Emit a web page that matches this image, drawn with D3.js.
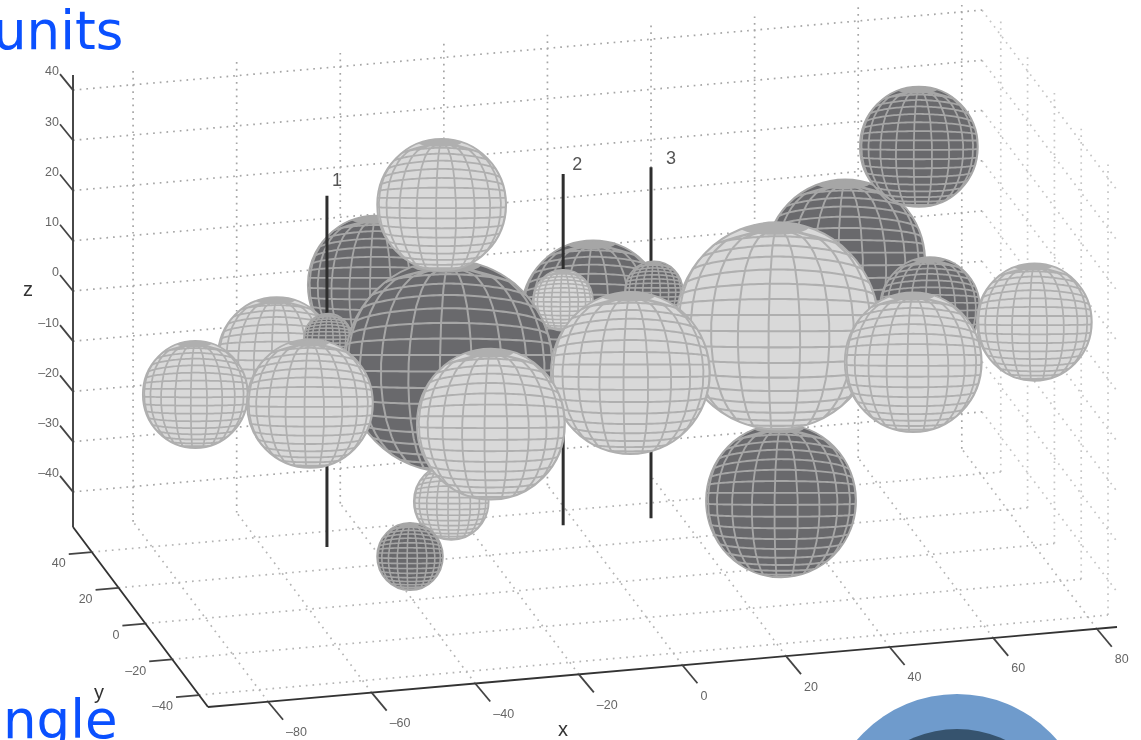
<!DOCTYPE html>
<meta charset="utf-8">
<style>
  html, body { margin: 0; background: #fff; overflow: hidden; }
  svg { display: block; }
</style>
<script src="https://cdn.jsdelivr.net/npm/d3@7"></script>
<body>
<script>

var width = 1141
var height = 740

// tick values and labels
var xTicks = [-80, -60, -40, -20, 0, 20, 40, 60, 80]
var yTicks = [-40, -20, 0, 20, 40]
var zTicks = [-40, -30, -20, -10, 0, 10, 20, 30, 40]

// spheres, back to front. kind 0 = light, 1 = dark
var sphereX = [52.3, 65.5, 66.6, 36.3, -0.5, 10.2, -7.6, -44, 33, 82.1, 58.2, -65.2, -55.6, -32.5, -34.4, 1, -34.1, -43.1, -28, -86.1, -65]
var sphereY = [34, 30, 26, 20, 18, 14, 13, 12, 10, 8, 6, 4, 3, 2, 0, -4, -6, -10, -12, -16, -20]
var sphereZ = [0, 23, -7.8, -41.3, 0, 5, 5.1, 11.8, -2.6, -5.6, -10.7, 2.2, 5.5, -1.8, 31.2, -4.1, -25.8, -34.5, -8.8, 3.8, 1.5]
var sphereR = [15.44, 11.39, 9.65, 14.48, 13.9, 5.6, 5.79, 13.13, 19.6, 11.1, 13.22, 11.39, 4.63, 20.08, 12.45, 15.35, 7.24, 6.37, 14.29, 10.14, 12.16]
var sphereKind = [1, 1, 1, 1, 1, 1, 0, 1, 0, 0, 0, 0, 1, 1, 0, 0, 0, 1, 0, 0, 0]

// numbered stems
var stemLabel = ["1", "2", "3"]
var stemX = [-53.7, -6.8, 9.9]
var stemY = [11, 16, 15]
var stemBottom = [-39.1, -40.8, -40.6]
var stemTop = [30.8, 29.1, 29.3]

var xMin = -91.6, xMax = 83.9
var yMin = -46.7, yMax = 54
var zMin = -47, zMax = 43

// each data axis moves along its own screen direction
var xToSx = d3.scaleLinear().domain([xMin, xMax]).range([0, 909])
var xToSy = d3.scaleLinear().domain([xMin, xMax]).range([0, -80])
var yToSx = d3.scaleLinear().domain([yMin, yMax]).range([0, -135])
var yToSy = d3.scaleLinear().domain([yMin, yMax]).range([0, -180])
var zToSy = d3.scaleLinear().domain([zMin, zMax]).range([0, -452])
var rToPx = d3.scaleLinear().domain([0, 1]).range([0, 5.18])
var kindFill = d3.scaleOrdinal().domain([0, 1]).range(["#d9d9d9", "#69696c"])
var kindLine = d3.scaleOrdinal().domain([0, 1]).range(["#afafaf", "#a6a6a6"])

function project(x, y, z) {
  return [208 + xToSx(x) + yToSx(y), 707 + xToSy(x) + yToSy(y) + zToSy(z)]
}

var line3d = d3.line()

var svg = d3.select("body").append("svg")
    .attr("width", width)
    .attr("height", height)
    .attr("viewBox", "0 0 " + width + " " + height)

var defs = svg.append("defs")
var chart = svg.append("g").style("filter", "blur(0.6px)")

// dotted grid on the back wall, floor and right wall
var backGrid = [], floorGrid = [], rightGrid = []
xTicks.forEach(function(x) {
  floorGrid.push([[x, yMin, zMin], [x, yMax, zMin]])
  backGrid.push([[x, yMax, zMin], [x, yMax, zMax]])
})
yTicks.forEach(function(y) {
  floorGrid.push([[xMin, y, zMin], [xMax, y, zMin]])
  rightGrid.push([[xMax, y, zMin], [xMax, y, zMax]])
})
zTicks.forEach(function(z) {
  backGrid.push([[xMin, yMax, z], [xMax, yMax, z]])
  rightGrid.push([[xMax, yMax, z], [xMax, yMin, z]])
})

function drawGrid(lines, color) {
  chart.append("g").selectAll("path")
    .data(lines)
    .join("path")
      .attr("d", function(d) { return line3d(d.map(function(p) { return project(p[0], p[1], p[2]) })) })
      .attr("fill", "none")
      .attr("stroke", color)
      .attr("stroke-width", 1.7)
      .attr("stroke-dasharray", "1.7 5")
}
drawGrid(rightGrid, "#c6c6c6")
drawGrid(floorGrid, "#b4b4b4")
drawGrid(backGrid, "#a6a6a6")

// axes
var axisPaths = [
  [[xMin, yMax, zMax], [xMin, yMax, zMin]],
  [[xMin, yMax, zMin], [xMin, yMin, zMin]],
  [[xMin, yMin, zMin], [xMax, yMin, zMin]]
]
chart.append("g").selectAll("path")
  .data(axisPaths)
  .join("path")
    .attr("d", function(d) { return line3d(d.map(function(p) { return project(p[0], p[1], p[2]) })) })
    .attr("fill", "none")
    .attr("stroke", "#333")
    .attr("stroke-width", 1.8)

function tickLabel(v) { return v < 0 ? "\u2013" + Math.abs(v) : String(v) }

function drawTicks(values, pos, dx, dy, lx, ly, anchor) {
  var g = chart.append("g")
  g.selectAll("line")
    .data(values)
    .join("line")
      .attr("x1", function(d) { return pos(d)[0] })
      .attr("y1", function(d) { return pos(d)[1] })
      .attr("x2", function(d) { return pos(d)[0] + dx })
      .attr("y2", function(d) { return pos(d)[1] + dy })
      .attr("stroke", "#444")
      .attr("stroke-width", 1.8)
  g.selectAll("text")
    .data(values)
    .join("text")
      .attr("x", function(d) { return pos(d)[0] + lx })
      .attr("y", function(d) { return pos(d)[1] + ly })
      .attr("dy", "0.35em")
      .attr("text-anchor", anchor)
      .attr("font-family", "Liberation Sans")
      .attr("font-size", 12.5)
      .attr("fill", "#666")
      .text(tickLabel)
}

drawTicks(xTicks, function(v) { return project(v, yMin, zMin) }, 15, 18, 18, 30, "start")
drawTicks(yTicks, function(v) { return project(xMin, v, zMin) }, -23, 2, -26, 11, "end")
drawTicks(zTicks, function(v) { return project(xMin, yMax, v) }, -13, -16, -14, -19, "end")

// axis names
var axisNames = [["x", 563, 730], ["y", 99, 693], ["z", 28, 290]]
chart.append("g").selectAll("text")
  .data(axisNames)
  .join("text")
    .attr("x", function(d) { return d[1] })
    .attr("y", function(d) { return d[2] })
    .attr("dy", "0.3em")
    .attr("text-anchor", "middle")
    .attr("font-family", "Liberation Sans")
    .attr("font-size", 20)
    .attr("fill", "#333")
    .text(function(d) { return d[0] })

// spheres and stems are painted together, farthest y first
var sphereItems = sphereX.map(function(x, i) {
  return { type: "sphere", x: x, y: sphereY[i], z: sphereZ[i], r: sphereR[i], kind: sphereKind[i], id: "ball" + i }
})
var stemItems = stemX.map(function(x, i) {
  return { type: "stem", x: x, y: stemY[i], bottom: stemBottom[i], top: stemTop[i], label: stemLabel[i] }
})
var items = sphereItems.concat(stemItems).sort(function(a, b) { return d3.descending(a.y, b.y) })

// the mesh in the picture is not a plain orthographic sphere: rows bow upward
// above the middle and downward below it, so it gets its own raw projection
var tilt = 21 * Math.PI / 180
var rowBow = d3.scaleLinear()
    .domain([-1, -0.77, -0.5, -0.2, 0.1, 0.27, 0.41, 0.56, 0.77, 0.87, 0.934])
    .range([-0.06, -0.1, -0.08, -0.03, 0, 0.06, 0.12, 0.16, 0.15, 0.08, 0])

function meshRaw(lam, phi) {
  var u = Math.sin(Math.max(phi - tilt, -Math.PI / 2))
  var w = Math.sqrt(Math.max(0, 1 - Math.pow((u + 0.2) / 1.134, 2)))
  var fade = Math.min(1, Math.cos(phi) * 6)
  var bow = rowBow(u)
  var edgeY = u - bow
  var edgeX = Math.sqrt(Math.max(0, 1 - edgeY * edgeY))
  var s = Math.sin(lam)
  return [s * (w + (edgeX - w) * fade * Math.abs(s)), u - bow * (1 - Math.cos(lam))]
}

var graticule = d3.geoGraticule().extent([[-180, -90], [180, 90.01]]).step([18, 9])()
var stretch = 1.02

var scene = chart.append("g")
items.forEach(function(d) {
  if (d.type == "stem") {
    var a = project(d.x, d.y, d.bottom)
    var b = project(d.x, d.y, d.top)
    scene.append("line")
      .attr("x1", a[0]).attr("y1", a[1])
      .attr("x2", b[0]).attr("y2", b[1])
      .attr("stroke", "#2e2e2e")
      .attr("stroke-width", 3)
    return
  }
  var c = project(d.x, d.y, d.z)
  var px = rToPx(d.r)
  var lw = 1.4 + px * 0.006
  // geoProjection pins raw(0,0) to the translate, so push it back down by that row
  var proj = d3.geoProjection(meshRaw).scale(px).translate([0, Math.sin(tilt) * px]).rotate([-5, 0]).clipAngle(90).precision(0.3)
  var path = d3.geoPath(proj)

  defs.append("clipPath").attr("id", d.id).append("circle").attr("r", px)

  var g = scene.append("g").attr("transform", "translate(" + c[0] + "," + c[1] + ") scale(1," + stretch + ")")
  g.append("circle")
    .attr("r", px)
    .attr("fill", kindFill(d.kind))
  var inner = g.append("g").attr("clip-path", "url(#" + d.id + ")")
  inner.append("path")
    .attr("d", path(graticule))
    .attr("fill", "none")
    .attr("stroke", kindLine(d.kind))
    .attr("stroke-width", lw)
  // rings round the pole merge into one grey cap
  inner.append("ellipse")
    .attr("cx", -px * 0.03)
    .attr("cy", -px * 0.955)
    .attr("rx", px * 0.34)
    .attr("ry", px * 0.075)
    .attr("fill", kindLine(d.kind))
  g.append("circle")
    .attr("r", px)
    .attr("fill", "none")
    .attr("stroke", kindLine(d.kind))
    .attr("stroke-width", lw)
})

// stem numbers sit above the stems
chart.append("g").selectAll("text")
  .data(stemItems)
  .join("text")
    .attr("x", function(d) { return project(d.x, d.y, d.top)[0] + 10 + (d.label == "3" ? 10 : d.label == "2" ? 4 : 0) })
    .attr("y", function(d) { return project(d.x, d.y, d.top)[1] - (d.label == "1" ? 16 : 10) })
    .attr("dy", "0.35em")
    .attr("text-anchor", "middle")
    .attr("font-family", "Liberation Sans")
    .attr("font-size", 18)
    .attr("fill", "#555")
    .text(function(d) { return d.label })

// slide leftovers around the figure
svg.append("text")
    .attr("x", -7).attr("y", 49)
    .attr("font-family", "DejaVu Sans")
    .attr("font-size", 53)
    .attr("fill", "#0a50ff")
    .text("units")

svg.append("text")
    .attr("x", 3).attr("y", 738)
    .attr("font-family", "DejaVu Sans")
    .attr("font-size", 53)
    .attr("fill", "#0a50ff")
    .text("ngle")

svg.append("circle").attr("cx", 957).attr("cy", 826).attr("r", 132).attr("fill", "#6f9bcc")
svg.append("circle").attr("cx", 957).attr("cy", 841).attr("r", 112).attr("fill", "#36536e")

</script>
</body>
